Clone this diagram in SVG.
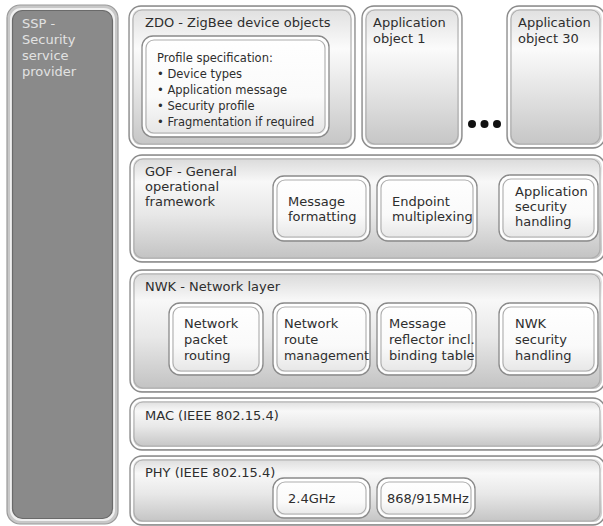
<svg xmlns="http://www.w3.org/2000/svg" width="603" height="526" viewBox="0 0 603 526">
<defs>
<linearGradient id="gLayer" x1="0" y1="0" x2="0" y2="1">
<stop offset="0" stop-color="#d6d6d6"/>
<stop offset="0.25" stop-color="#f8f8f8"/>
<stop offset="0.55" stop-color="#e8e8e8"/>
<stop offset="1" stop-color="#c0c0c0"/>
</linearGradient>
<linearGradient id="gTall" x1="0" y1="0" x2="0" y2="1">
<stop offset="0" stop-color="#dedede"/>
<stop offset="0.3" stop-color="#fbfbfb"/>
<stop offset="0.6" stop-color="#e4e4e4"/>
<stop offset="1" stop-color="#c4c4c4"/>
</linearGradient>
<linearGradient id="gInner" x1="0" y1="0" x2="0" y2="1">
<stop offset="0" stop-color="#ffffff"/>
<stop offset="0.6" stop-color="#fafafa"/>
<stop offset="1" stop-color="#e4e4e4"/>
</linearGradient>
</defs>
<style>
.o{stroke:#8a8a8a;stroke-width:1.3}
.hl{fill:none;stroke:#ffffff;stroke-width:1.8}
.il{fill:none;stroke:#adadad;stroke-width:1.1}
.lay{fill:url(#gLayer)}
.tall{fill:url(#gTall)}
.inb{fill:url(#gInner)}
text{font-family:"DejaVu Sans","Verdana",sans-serif;font-size:13px;fill:#2e2e2e}
.sm{font-size:11.5px}
.ssp{fill:#e2e2e2}
</style>

<g id="ssp">
<rect x="7" y="5" width="111" height="519" rx="13" fill="#c8c8c8" stroke="#9a9a9a" stroke-width="1.2"/>
<rect x="10" y="8" width="105" height="513" rx="11" fill="#f0f0f0" stroke="none"/>
<rect x="12.5" y="10.5" width="100" height="508" rx="10" fill="#8a8a8a" stroke="#6a6a6a" stroke-width="1.2"/>
<text class="ssp" x="22" y="28">SSP -</text>
<text class="ssp" x="22" y="44">Security</text>
<text class="ssp" x="22" y="60">service</text>
<text class="ssp" x="22" y="76">provider</text>
</g>

<g id="zdo">
<rect class="o tall" x="129" y="6" width="226" height="142" rx="12"/>
<rect class="hl" x="131" y="8" width="222" height="138" rx="10"/>
<rect class="il" x="133" y="10" width="218" height="134" rx="9"/>
<text x="145" y="27">ZDO - ZigBee device objects</text>
</g>

<g id="profile">
<rect class="o inb" x="142" y="36" width="187" height="101" rx="11"/>
<rect class="hl" x="144" y="38" width="183" height="97" rx="9"/>
<rect class="il" x="146" y="40" width="179" height="93" rx="8"/>
<text class="sm" x="157" y="62">Profile specification:</text>
<text class="sm" x="157" y="78">• Device types</text>
<text class="sm" x="157" y="94">• Application message</text>
<text class="sm" x="157" y="110">• Security profile</text>
<text class="sm" x="157" y="126">• Fragmentation if required</text>
</g>

<g id="app1">
<rect class="o tall" x="362" y="6" width="100" height="142" rx="12"/>
<rect class="hl" x="364" y="8" width="96" height="138" rx="10"/>
<rect class="il" x="366" y="10" width="92" height="134" rx="9"/>
<text x="373" y="27">Application</text>
<text x="373" y="43">object 1</text>
</g>

<g id="dots">
<circle cx="472" cy="124" r="4" fill="#111"/>
<circle cx="484.5" cy="124" r="4" fill="#111"/>
<circle cx="497" cy="124" r="4" fill="#111"/>
</g>

<g id="app30">
<rect class="o tall" x="507" y="6" width="98" height="142" rx="12"/>
<rect class="hl" x="509" y="8" width="94" height="138" rx="10"/>
<rect class="il" x="511" y="10" width="89" height="134" rx="9"/>
<text x="518" y="27">Application</text>
<text x="518" y="43">object 30</text>
</g>

<g id="gof">
<rect class="o lay" x="130" y="155" width="475" height="107" rx="12"/>
<rect class="hl" x="132" y="157" width="471" height="103" rx="10"/>
<rect class="il" x="134" y="159" width="466" height="99" rx="9"/>
<text x="145" y="176">GOF - General</text>
<text x="145" y="191">operational</text>
<text x="145" y="206">framework</text>
</g>

<g id="msgfmt">
<rect class="o inb" x="273" y="176" width="97" height="65" rx="11"/>
<rect class="hl" x="275" y="178" width="93" height="61" rx="9"/>
<rect class="il" x="277" y="180" width="89" height="57" rx="8"/>
<text x="288" y="206">Message</text>
<text x="288" y="221">formatting</text>
</g>

<g id="endpoint">
<rect class="o inb" x="377" y="176" width="100" height="65" rx="11"/>
<rect class="hl" x="379" y="178" width="96" height="61" rx="9"/>
<rect class="il" x="381" y="180" width="92" height="57" rx="8"/>
<text x="392" y="206">Endpoint</text>
<text x="392" y="221">multiplexing</text>
</g>

<g id="appsec">
<rect class="o inb" x="499" y="175" width="99" height="66" rx="11"/>
<rect class="hl" x="501" y="177" width="95" height="62" rx="9"/>
<rect class="il" x="503" y="179" width="91" height="58" rx="8"/>
<text x="515" y="196">Application</text>
<text x="515" y="211">security</text>
<text x="515" y="226">handling</text>
</g>

<g id="nwk">
<rect class="o lay" x="130" y="270" width="475" height="122" rx="12"/>
<rect class="hl" x="132" y="272" width="471" height="118" rx="10"/>
<rect class="il" x="134" y="274" width="466" height="114" rx="9"/>
<text x="145" y="291">NWK - Network layer</text>
</g>

<g id="pktroute">
<rect class="o inb" x="169" y="303" width="94" height="72" rx="11"/>
<rect class="hl" x="171" y="305" width="90" height="68" rx="9"/>
<rect class="il" x="173" y="307" width="86" height="64" rx="8"/>
<text x="184" y="328">Network</text>
<text x="184" y="344">packet</text>
<text x="184" y="360">routing</text>
</g>

<g id="routemgmt">
<rect class="o inb" x="273" y="303" width="97" height="72" rx="11"/>
<rect class="hl" x="275" y="305" width="93" height="68" rx="9"/>
<rect class="il" x="277" y="307" width="89" height="64" rx="8"/>
<text x="284" y="328">Network</text>
<text x="284" y="344">route</text>
<text x="284" y="360" textLength="85" lengthAdjust="spacingAndGlyphs">management</text>
</g>

<g id="reflector">
<rect class="o inb" x="377" y="303" width="99" height="72" rx="11"/>
<rect class="hl" x="379" y="305" width="95" height="68" rx="9"/>
<rect class="il" x="381" y="307" width="91" height="64" rx="8"/>
<text x="389" y="328">Message</text>
<text x="389" y="344">reflector incl.</text>
<text x="389" y="360">binding table</text>
</g>

<g id="nwksec">
<rect class="o inb" x="499" y="303" width="99" height="72" rx="11"/>
<rect class="hl" x="501" y="305" width="95" height="68" rx="9"/>
<rect class="il" x="503" y="307" width="91" height="64" rx="8"/>
<text x="515" y="328">NWK</text>
<text x="515" y="344">security</text>
<text x="515" y="360">handling</text>
</g>

<g id="mac">
<rect class="o lay" x="130" y="398" width="475" height="52" rx="12"/>
<rect class="hl" x="132" y="400" width="471" height="48" rx="10"/>
<rect class="il" x="134" y="402" width="466" height="44" rx="9"/>
<text x="145" y="420">MAC (IEEE 802.15.4)</text>
</g>

<g id="phy">
<rect class="o lay" x="130" y="456" width="475" height="69" rx="12"/>
<rect class="hl" x="132" y="458" width="471" height="65" rx="10"/>
<rect class="il" x="134" y="460" width="466" height="61" rx="9"/>
<text x="145" y="477">PHY (IEEE 802.15.4)</text>
</g>

<g id="ghz24">
<rect class="o inb" x="273" y="478" width="97" height="40" rx="11"/>
<rect class="hl" x="275" y="480" width="93" height="36" rx="9"/>
<rect class="il" x="277" y="482" width="89" height="32" rx="8"/>
<text x="288" y="503">2.4GHz</text>
</g>

<g id="mhz868">
<rect class="o inb" x="377" y="478" width="98" height="40" rx="11"/>
<rect class="hl" x="379" y="480" width="94" height="36" rx="9"/>
<rect class="il" x="381" y="482" width="90" height="32" rx="8"/>
<text x="387" y="503">868/915MHz</text>
</g>

<g id="connectors"></g>
</svg>
